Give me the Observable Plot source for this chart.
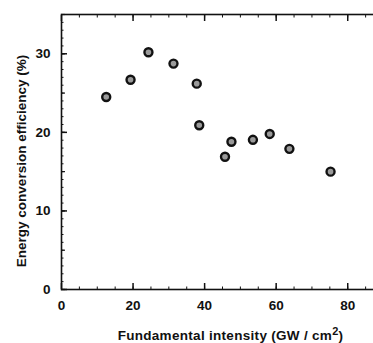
<!DOCTYPE html>
<html><head><meta charset="utf-8">
<script src="https://cdn.jsdelivr.net/npm/d3@7"></script>
<script src="https://cdn.jsdelivr.net/npm/@observablehq/plot@0.6"></script>
<style>
html,body{margin:0;padding:0;background:#fff;overflow:hidden;width:373px;height:343px}
</style></head>
<body><div id="chart"></div>
<script>
const intensity = [12.5, 19.3, 24.3, 31.3, 37.8, 38.5, 45.7, 47.5, 53.5, 58.2, 63.7, 75.2];
const efficiency = [24.5, 26.7, 30.2, 28.75, 26.2, 20.9, 16.9, 18.8, 19.05, 19.8, 17.9, 15.0];
const xTickLabels = [0, 20, 40, 60, 80];
const yTickLabels = [0, 10, 20, 30];
const xMinorTicks = d3.range(0, 91, 5);
const yMinorTicks = d3.range(0, 36, 1);
const yMidTicks = d3.range(0, 36, 5);
const xLabel = "Fundamental intensity (GW / cm2)";
const yLabel = "Energy conversion efficiency (%)";

const data = intensity.map((x, i) => ({x, y: efficiency[i]}));
const ink = "#111";
const font = "'Liberation Sans', Arial, sans-serif";

// inward ticks: outward axis ticks shifted inside by their own length
function inTicks(values, anchor, len, width) {
  const o = {ticks: values, tickSize: len, fill: "none", stroke: ink, strokeWidth: width, label: null};
  if (anchor === "left") return Plot.axisY({...o, anchor: "left", dx: len});
  if (anchor === "bottom") return Plot.axisX({...o, anchor: "bottom", dy: -len});
  return Plot.axisX({...o, anchor: "top", dy: len});
}

const chart = Plot.plot({
  width: 373,
  height: 343,
  marginLeft: 61,
  marginTop: 14,
  marginBottom: 54,
  marginRight: -10,
  style: {fontFamily: font, fontWeight: "bold", fontSize: "13.5px", color: ink, background: "#fff"},
  x: {domain: [0, 90]},
  y: {domain: [0, 35]},
  marks: [
    Plot.frame({stroke: ink, strokeWidth: 1.6}),
    Plot.axisY({ticks: yTickLabels, tickSize: 0, tickPadding: 11, fill: ink, label: null, fontSize: 13.5}),
    Plot.axisX({ticks: xTickLabels, tickSize: 0, tickPadding: 11, fill: ink, label: null, fontSize: 13.5}),
    Plot.dot(data, {x: "x", y: "y", r: 4, fill: "#9a9a9a", stroke: ink, strokeWidth: 2.4}),
    Plot.text([xLabel], {frameAnchor: "bottom", dy: 46, dx: 8, text: d => d, fontSize: 13.5, fontWeight: "bold", fill: ink, lineAnchor: "middle"}),
    Plot.text([yLabel], {frameAnchor: "left", textAnchor: "middle", dx: -40, dy: 9, rotate: -90, text: d => d, fontSize: 13.5, fontWeight: "bold", fill: ink}),
    inTicks(yMinorTicks, "left", 2.5, 1),
    inTicks(yMidTicks, "left", 4, 1.2),
    inTicks(yTickLabels, "left", 6, 1.5),
    inTicks(xMinorTicks, "bottom", 2.5, 1),
    inTicks(xTickLabels, "bottom", 6, 1.5),
    inTicks(xMinorTicks, "top", 2.5, 1),
    inTicks(xTickLabels, "top", 6, 1.5)
  ]
});
document.getElementById("chart").appendChild(chart);
// superscript for cm²
d3.select(chart).selectAll("text").each(function() {
  if (this.textContent === xLabel) {
    const t = d3.select(this);
    t.text("Fundamental intensity (GW / cm");
    t.append("tspan").attr("dy", "-5").attr("font-size", "11").text("2");
    t.append("tspan").attr("dy", "5").text(")");
    t.attr("letter-spacing", "0.3");
  }
});
</script>
</body></html>
